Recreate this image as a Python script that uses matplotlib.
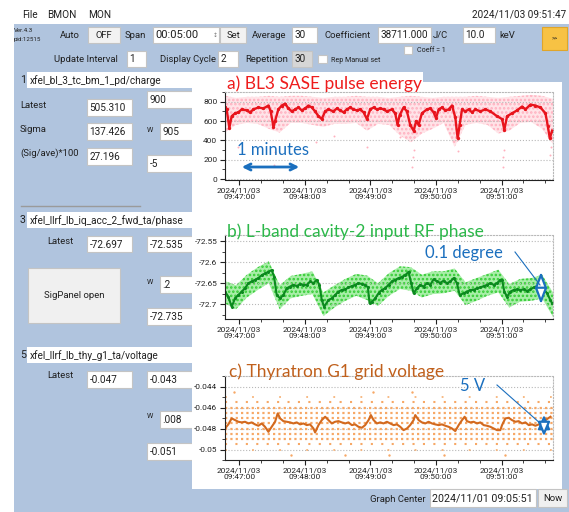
import datetime as dt
import matplotlib
matplotlib.use("Agg")
import matplotlib.pyplot as plt
import matplotlib.dates as mdates
from matplotlib.patches import Rectangle, FancyArrowPatch
from matplotlib.ticker import AutoMinorLocator, FuncFormatter
from matplotlib import font_manager

W, H = 569, 512

installed = {f.name for f in font_manager.fontManager.ttflist}
if "Liberation Sans Narrow" in installed:
    UI_FONT, UI_K = "Liberation Sans Narrow", 1.0
else:
    UI_FONT, UI_K = "Roboto", 0.85
plt.rcParams["font.family"] = [UI_FONT, "DejaVu Sans"]
plt.rcParams["hatch.linewidth"] = 1.2
TITLE_FONT = ["Lato", "DejaVu Sans"]

# ---- data (seconds after 09:46:47) ----
start = dt.datetime(2024, 11, 3, 9, 46, 47)
span_s = 300

# a) BL3 SASE pulse energy (mean trace)
a_t = [0, 1.5, 4, 6.1, 9.2, 12.2, 15.3, 19.8, 22.9, 26, 30.5, 35.1, 39.7, 41.8, 44.3,
       45.8, 48.8, 51.9, 55, 58, 61.1, 64.1, 67.2, 70.2, 73.3, 76.3, 79.4, 82.4, 85.5,
       88.5, 91.6, 94.6, 99.2, 102.3, 105.3, 108.4, 111.4, 114.5, 117.5, 120.6, 123.6,
       126.7, 129.8, 132.8, 135.9, 138.9, 142, 145, 148.1, 152.6, 155.7, 157.8, 159.7,
       163.3, 166.4, 169.4, 172.5, 174.9, 177.1, 180.1, 184.7, 187.8, 190.8, 193, 195.4,
       198.4, 201.5, 204.5, 207.6, 210.6, 212.8, 214.6, 216.8, 219.8, 222.9, 225.9, 229,
       233.5, 238.1, 242.7, 248.8, 253.4, 255.5, 258, 262.6, 267.1, 271.7, 274.8, 279.3,
       283.9, 288.5, 293.1, 295.2, 297.1, 299.2]
a_v = [750, 720, 530, 650, 680, 690, 720, 710, 690, 720, 740, 730, 760, 700, 540,
       600, 720, 760, 780, 730, 700, 720, 740, 710, 730, 760, 740, 700, 650, 620,
       700, 720, 700, 730, 710, 690, 720, 740, 720, 710, 720, 690, 620, 720, 740,
       720, 730, 720, 700, 720, 680, 560, 660, 740, 700, 560, 500, 600, 560, 680,
       720, 730, 690, 630, 720, 740, 710, 720, 760, 640, 420, 560, 720, 700, 720,
       690, 720, 700, 720, 700, 650, 620, 510, 650, 680, 710, 750, 720, 770, 760,
       740, 680, 550, 420, 500]
# scatter cloud envelope, every 10 s
band_t = list(range(0, 301, 10))
a_hi = [860, 840, 850, 850, 860, 850, 860, 860, 850, 840, 850, 850, 860, 850, 850, 840,
        850, 860, 850, 840, 850, 850, 850, 860, 850, 840, 850, 860, 870, 860, 830]
a_lo = [480, 560, 580, 570, 520, 480, 580, 580, 560, 540, 570, 570, 580, 500, 570, 560,
        450, 380, 470, 520, 580, 330, 560, 580, 560, 470, 500, 580, 590, 520, 360]
a_out_t = [12, 45, 46, 83, 100, 130, 160, 171, 171.5, 173, 212, 213, 254, 254.5, 255, 297, 298]
a_out_v = [330, 150, 280, 380, 450, 330, 430, 120, 230, 300, 400, 290, 230, 120, 300, 250, 330]

# b) L-band cavity-2 input RF phase
b_t = [0, 3.05, 6.1, 9.2, 12.2, 15.3, 18.3, 21.4, 24.4, 27.5, 30.5, 33.6, 36.6, 39.7,
       42.7, 44.9, 47.3, 50.4, 53.4, 56.5, 59.5, 62.6, 65.6, 68.7, 71.7, 74.8, 77.8, 80.9,
       83.9, 86.4, 88.5, 90.7, 94.6, 97.7, 100.7, 103.8, 106.8, 109.9, 112.9, 116, 119,
       122.1, 125.2, 128.2, 130.7, 132.2, 134.3, 137.4, 140.4, 143.5, 146.5, 149.6, 152.6,
       155.7, 158.7, 161.8, 164.8, 167.9, 170.3, 172.5, 175.5, 178.6, 181.6, 184.7, 187.7,
       190.8, 193.9, 196.9, 200, 203, 206.1, 209.1, 212.2, 214.6, 218.3, 221.3, 224.4,
       227.4, 230.5, 233.5, 236.6, 239.6, 242.7, 245.7, 248.8, 251.8, 253.4, 255.5, 258,
       261, 264.1, 267.1, 270.2, 273.2, 276.3, 279.3, 282.4, 285.4, 288.5, 291.5, 294.6,
       297.6, 299.2]
b_v = [-72.670, -72.682, -72.706, -72.686, -72.678, -72.670, -72.662, -72.650, -72.646,
       -72.642, -72.638, -72.631, -72.627, -72.623, -72.619, -72.635, -72.678, -72.686,
       -72.678, -72.662, -72.658, -72.654, -72.657, -72.652, -72.654, -72.654, -72.646,
       -72.650, -72.642, -72.654, -72.690, -72.706, -72.690, -72.686, -72.678, -72.670,
       -72.666, -72.665, -72.660, -72.657, -72.654, -72.650, -72.652, -72.654, -72.660,
       -72.698, -72.694, -72.686, -72.674, -72.666, -72.662, -72.654, -72.646, -72.642,
       -72.638, -72.635, -72.631, -72.623, -72.650, -72.674, -72.662, -72.654, -72.658,
       -72.650, -72.654, -72.641, -72.646, -72.649, -72.644, -72.650, -72.646, -72.638,
       -72.650, -72.678, -72.674, -72.670, -72.666, -72.666, -72.662, -72.660, -72.657,
       -72.654, -72.650, -72.654, -72.650, -72.642, -72.642, -72.670, -72.682, -72.670,
       -72.666, -72.665, -72.666, -72.665, -72.668, -72.665, -72.660, -72.657, -72.658,
       -72.665, -72.674, -72.690, -72.698]
b_hi = [-72.645, -72.655, -72.630, -72.612, -72.598, -72.655, -72.633, -72.628, -72.622,
        -72.672, -72.655, -72.640, -72.628, -72.632, -72.650, -72.626, -72.610, -72.612,
        -72.630, -72.622, -72.622, -72.615, -72.648, -72.638, -72.628, -72.618, -72.652,
        -72.640, -72.638, -72.630, -72.672]
b_lo = [-72.698, -72.712, -72.684, -72.666, -72.650, -72.712, -72.686, -72.680, -72.676,
        -72.728, -72.708, -72.692, -72.680, -72.690, -72.704, -72.680, -72.664, -72.668,
        -72.684, -72.676, -72.674, -72.668, -72.702, -72.692, -72.680, -72.672, -72.708,
        -72.694, -72.692, -72.686, -72.730]

# c) Thyratron G1 grid voltage
c_t = [0, 3.05, 6.1, 9.2, 12.2, 15.3, 18.3, 21.4, 24.4, 27.5, 30.5, 33.6, 36.6, 39.7,
       42.7, 45.8, 48.2, 50.4, 53.4, 56.5, 59.5, 62.6, 65.6, 68.7, 71.7, 74.8, 77.8, 80.9,
       82.4, 85.5, 88.5, 91.6, 94.6, 97.7, 100.7, 103.8, 106.8, 109.9, 112.9, 116, 119,
       122.1, 125.2, 128.2, 131.3, 133.4, 135.9, 138.9, 142, 145, 148.1, 151.1, 154.2,
       157.2, 160.3, 163.3, 166.4, 169.4, 172.5, 174, 177.1, 180.1, 183.2, 186.2, 189.3,
       192.3, 195.4, 198.4, 201.5, 204.5, 207.6, 210.6, 213.7, 216.8, 219.2, 221.3, 224.4,
       227.4, 230.5, 233.5, 236.6, 239.6, 242.7, 245.7, 248.8, 251.8, 253.4, 256.4, 259.5,
       262.5, 265.6, 268.6, 271.7, 274.8, 277.8, 280.9, 283.9, 287, 290, 293.1, 297.7]
c_v = [-0.04799, -0.04760, -0.04703, -0.04719, -0.04735, -0.04741, -0.04735, -0.04751,
       -0.04741, -0.04760, -0.04773, -0.04751, -0.04783, -0.04831, -0.04783, -0.04735,
       -0.04655, -0.04703, -0.04729, -0.04735, -0.04741, -0.04751, -0.04741, -0.04760,
       -0.04751, -0.04767, -0.04760, -0.04799, -0.04837, -0.04767, -0.04719, -0.04687,
       -0.04719, -0.04751, -0.04735, -0.04729, -0.04741, -0.04751, -0.04741, -0.04767,
       -0.04760, -0.04783, -0.04792, -0.04767, -0.04719, -0.04671, -0.04719, -0.04751,
       -0.04741, -0.04751, -0.04735, -0.04751, -0.04767, -0.04760, -0.04783, -0.04815,
       -0.04799, -0.04767, -0.04719, -0.04671, -0.04719, -0.04741, -0.04751, -0.04735,
       -0.04751, -0.04760, -0.04767, -0.04760, -0.04773, -0.04783, -0.04799, -0.04824,
       -0.04767, -0.04719, -0.04687, -0.04729, -0.04741, -0.04735, -0.04751, -0.04741,
       -0.04767, -0.04773, -0.04783, -0.04799, -0.04815, -0.04815, -0.04767, -0.04703,
       -0.04697, -0.04719, -0.04735, -0.04729, -0.04751, -0.04741, -0.04767, -0.04760,
       -0.04773, -0.04760, -0.04751, -0.04719, -0.04687]
c_dense = [-0.046, -0.0465, -0.047, -0.0475, -0.048, -0.0485, -0.049]
c_sparse = [-0.0455, -0.0495]
c_rare = [-0.045, -0.05]
c_out_t = [8, 60, 110, 135, 150, 171, 200, 256]
c_out_v = [-0.0445, -0.0505, -0.0505, -0.0445, -0.0505, -0.0445, -0.0505, -0.0505]

panels = [
    dict(ylim=(-5, 900), ticks=[0, 200, 400, 600, 800]),
    dict(ylim=(-72.735, -72.535), ticks=[-72.7, -72.65, -72.6, -72.55]),
    dict(ylim=(-0.051, -0.043), ticks=[-0.05, -0.048, -0.046, -0.044]),
]


def times(sec):
    return [start + dt.timedelta(seconds=s) for s in sec]


fig = plt.figure(figsize=(W / 100, H / 100), dpi=100)

# background GUI layer in pixel coordinates
bg = fig.add_axes([0, 0, 1, 1], zorder=-1)
bg.set_xlim(0, W)
bg.set_ylim(H, 0)
bg.axis("off")

BLUE_BG = "#b0c4de"


def rect(ax, x0, y0, x1, y1, fc, ec="none", lw=0.8):
    ax.add_patch(Rectangle((x0, y0), x1 - x0, y1 - y0, facecolor=fc, edgecolor=ec, lw=lw))


def txt(x, y, s, fs=8, ha="left", color="#202020", ax=None, **kw):
    (ax or bg).text(x, y, s, fontsize=fs * UI_K, ha=ha, va="center", color=color, **kw)


def field(x0, y0, x1, y1, s, fs=8, fc="white", ec="#c4c4c4", center=False):
    rect(bg, x0, y0, x1, y1, fc, ec)
    if center:
        txt((x0 + x1) / 2, (y0 + y1) / 2 + 0.5, s, fs, ha="center")
    else:
        txt(x0 + 2.5, (y0 + y1) / 2 + 0.5, s, fs)


rect(bg, 14, 24, W, H, BLUE_BG)

# menu bar
txt(22, 15, "File", 8.5)
txt(47, 15, "BMON", 8.5)
txt(88, 15, "MON", 8.5)
txt(566, 14, "2024/11/03 09:51:47", 8.5, ha="right")

# control rows
txt(14, 31, "Ver.4.3", 5.2)
txt(14, 40, "pid:12515", 5.2)
txt(60, 35, "Auto", 8)
field(88, 27, 120, 43, "OFF", 8, fc="#f2f2f2", center=True)
txt(125, 35, "Span", 8)
field(153, 27, 219, 43, "00:05:00", 9.5)
txt(213, 35, "\u2195", 5, color="#777777")
field(220, 27, 246, 43, "Set", 8, fc="#f2f2f2", center=True)
txt(252, 35, "Average", 8)
field(292, 27, 317, 43, "30", 8.5)
txt(325, 35, "Coefficient", 8)
field(378, 27, 431, 43, "38711.000", 8.5)
txt(433, 35, "J/C", 8)
field(463, 27, 495, 43, "10.0", 8.5)
txt(499, 35, "keV", 8)
field(542, 27, 567, 50, ">>", 5, fc="#f7c244", ec="#e0a52a", center=True)
rect(bg, 404, 46, 412, 54, "white", "#c4c4c4")
txt(417, 50, "Coeff = 1", 6)

txt(54, 60, "Update Interval", 8)
field(127, 51, 146, 67, "1", 8.5)
txt(160, 60, "Display Cycle", 8)
field(218, 51, 238, 67, "2", 8.5)
txt(245, 60, "Repetition", 8)
field(292, 51, 312, 67, "30", 8.5, fc="#d6d6d6")
rect(bg, 318, 55, 327, 63, "white", "#c4c4c4")
txt(331, 61, "Rep Manual set", 6)

# signal 1
txt(20, 80, "1", 9)
field(27, 72, 192, 88, "xfel_bl_3_tc_bm_1_pd/charge", 8.5, ec="none")
txt(20, 105, "Latest", 8)
field(87, 99, 132, 116, "505.310", 8.5)
txt(20, 129, "Sigma", 8)
field(87, 123, 132, 140, "137.426", 8.5)
txt(20, 153, "(Sig/ave)*100", 8)
field(87, 148, 132, 165, "27.196", 8.5)
field(147, 91, 194, 108, "900", 8.5)
txt(147, 131, "W", 6)
field(160, 123, 194, 140, "905", 8.5)
field(147, 155, 194, 172, "-5", 8.5)
bg.plot([21, 140], [206, 206], color="#9a9a9a", lw=1)

# signal 3
txt(20, 220, "3", 9)
field(27, 212, 192, 228, "xfel_llrf_lb_iq_acc_2_fwd_ta/phase", 8.5, ec="none")
txt(47, 241, "Latest", 8)
field(87, 236, 132, 252, "-72.697", 8.5)
field(147, 236, 194, 252, "-72.535", 8.5)
field(28, 268, 120, 323, "SigPanel open", 8, fc="#f0f0f0", center=True)
txt(147, 282, "W", 6)
field(160, 276, 194, 293, ".2", 8.5)
field(147, 308, 194, 325, "-72.735", 8.5)

# signal 5
txt(20, 355, "5", 9)
field(27, 347, 192, 363, "xfel_llrf_lb_thy_g1_ta/voltage", 8.5, ec="none")
txt(47, 376, "Latest", 8)
field(87, 371, 132, 388, "-0.047", 8.5)
field(147, 371, 194, 388, "-0.043", 8.5)
txt(147, 417, "W", 6)
field(160, 411, 194, 428, ".008", 8.5)
field(147, 443, 194, 460, "-0.051", 8.5)

# graph area and bottom bar
rect(bg, 192, 82, 562, 489, "white")
rect(bg, 192, 72, 423, 82, "white")
txt(426, 500, "Graph Center", 8, ha="right")
field(430, 489, 536, 507, "2024/11/01 09:05:51", 9)
field(538, 489, 567, 507, "Now", 8, fc="#f0f0f0", center=True)

# ---- plot panels ----
boxes = [(225, 92, 553, 179.5), (225, 234.7, 553, 319), (225, 376.2, 553, 460)]
axes = []
for (x0, y0, x1, y1), p in zip(boxes, panels):
    ax = fig.add_axes([x0 / W, 1 - y1 / H, (x1 - x0) / W, (y1 - y0) / H], zorder=1)
    ax.set_facecolor("none")
    ax.set_xlim(start, start + dt.timedelta(seconds=span_s))
    ax.set_ylim(*p["ylim"])
    ax.set_yticks(p["ticks"])
    ax.yaxis.set_minor_locator(AutoMinorLocator(2))
    ax.yaxis.set_major_formatter(FuncFormatter(lambda v, _: "{:g}".format(round(v, 6))))
    ax.xaxis.set_major_locator(mdates.MinuteLocator())
    ax.xaxis.set_minor_locator(mdates.SecondLocator(bysecond=[20, 40]))
    ax.xaxis.set_major_formatter(mdates.DateFormatter("%Y/%m/%d\n%H:%M:%S"))
    ax.tick_params(which="major", labelsize=7 * UI_K, length=3.5, width=0.8,
                   pad=2, colors="#222222")
    ax.tick_params(which="minor", length=2, width=0.6, colors="#222222")
    for lab in ax.get_xticklabels():
        lab.set_linespacing(1.1)
    ax.yaxis.grid(True, ls=":", color="#b8b8b8", lw=0.8)
    for side in ("top", "right"):
        ax.spines[side].set_linestyle(":")
        ax.spines[side].set_color("#b8b8b8")
    for side in ("left", "bottom"):
        ax.spines[side].set_color("#222222")
    axes.append(ax)

ax_a, ax_b, ax_c = axes
tb = times(band_t)

ax_a.fill_between(tb, a_lo, a_hi, facecolor="#ffe4e8", lw=0, hatch="....",
                  edgecolor="#ffb0bf")
ax_a.scatter(times(a_out_t), a_out_v, s=2, color="#ffb0be", lw=0)
ax_a.plot(times(a_t), a_v, color="#e8141c", lw=1.7, marker="o", ms=1.4)

ax_b.fill_between(tb, b_lo, b_hi, facecolor="#a8eea8", lw=0, hatch="....",
                  edgecolor="#33cc33")
ax_b.plot(times(b_t), b_v, color="#0b8a1e", lw=1.5, marker="o", ms=1.2)

t_all = [start, start + dt.timedelta(seconds=span_s)]
for lv in c_dense:
    ax_c.plot(t_all, [lv, lv], color="#f7a866", lw=1.6, ls=(0, (1, 1.4)))
for lv in c_sparse:
    ax_c.plot(t_all, [lv, lv], color="#f7a866", lw=1.5, ls=(0, (1, 4)))
for lv in c_rare:
    ax_c.plot(t_all, [lv, lv], color="#f7b47a", lw=1.3, ls=(0, (1, 14)))
ax_c.scatter(times(c_out_t), c_out_v, s=3, color="#f7a866", lw=0)
ax_c.plot(times(c_t), c_v, color="#d2691e", lw=1.5)

# ---- overlay: titles and hand-drawn annotations ----
ov = fig.add_axes([0, 0, 1, 1], zorder=10)
ov.set_xlim(0, W)
ov.set_ylim(H, 0)
ov.axis("off")
ov.patch.set_alpha(0)

ov.text(227, 84, "a) BL3 SASE pulse energy", fontsize=12.5, color="#ee1c1c",
        family=TITLE_FONT, va="center")
ov.text(227, 232, "b) L-band cavity-2 input RF phase", fontsize=12.5, color="#2cb84a",
        family=TITLE_FONT, va="center")
ov.text(229, 372, "c) Thyratron G1 grid voltage", fontsize=12.5, color="#c0601c",
        family=TITLE_FONT, va="center")

ANN = "#1b6fbe"
ov.text(273, 150, "1 minutes", fontsize=12, color=ANN, family=TITLE_FONT,
        ha="center", va="center")
ov.add_patch(FancyArrowPatch((239, 167), (302, 167), arrowstyle="<->", mutation_scale=11,
                             lw=2, color=ANN))
ov.text(464, 253, "0.1 degree", fontsize=12, color=ANN, family=TITLE_FONT,
        ha="center", va="center")
ov.plot([515, 540], [252, 285], color=ANN, lw=0.8)
ov.add_patch(FancyArrowPatch((541, 269), (541, 307),
                             arrowstyle="<|-|>,head_length=0.8,head_width=0.3",
                             mutation_scale=12, lw=1.6, facecolor="#ffffff",
                             edgecolor=ANN))
ov.text(473, 386, "5 V", fontsize=12, color=ANN, family=TITLE_FONT,
        ha="center", va="center")
ov.plot([497, 541], [385, 424], color=ANN, lw=0.8)
ov.add_patch(FancyArrowPatch((544, 412), (544, 439),
                             arrowstyle="<|-|>,head_length=0.7,head_width=0.3",
                             mutation_scale=12, lw=1.6, facecolor="#ffffff",
                             edgecolor=ANN))

fig.savefig("out.png", dpi=100)
